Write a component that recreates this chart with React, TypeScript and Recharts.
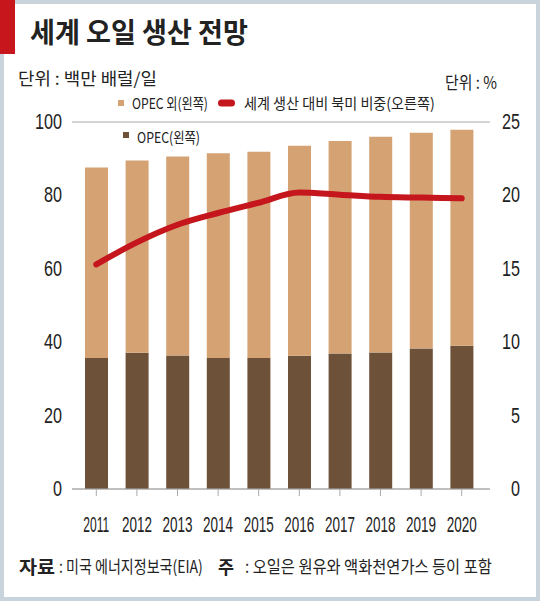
import React, { useLayoutEffect, useRef, useState } from "react";
import { ComposedChart, Bar, Line, XAxis, YAxis, CartesianGrid } from "recharts";

const years = ["2011", "2012", "2013", "2014", "2015", "2016", "2017", "2018", "2019", "2020"];
const opec = [35.7, 37.1, 36.4, 35.7, 35.7, 36.3, 36.9, 37.2, 38.3, 39.0];
const nonOpec = [51.9, 52.4, 54.2, 55.8, 56.2, 57.2, 57.9, 58.8, 58.8, 58.9];
const naShare = [15.3, 16.8, 18.0, 18.8, 19.5, 20.2, 20.05, 19.9, 19.85, 19.8];
const leftTicks = [0, 20, 40, 60, 80, 100];
const rightTicks = [0, 5, 10, 15, 20, 25];

const data = years.map((year, i) => ({
  year,
  opec: opec[i],
  nonOpec: nonOpec[i],
  share: naShare[i],
}));

const NUM_FONT = "'Liberation Sans', Arial, sans-serif";
const KR_FONT = "'Noto Sans CJK KR', sans-serif";
const TAN = "#d4a273";
const BROWN = "#6d5139";
const RED = "#c4161c";

// squeezes a text horizontally to a given width (the source uses a condensed face)
function FitText({ x, y, width, anchor = "start", children, ...rest }: any) {
  const ref = useRef<SVGTextElement>(null);
  const [sx, setSx] = useState(1);
  useLayoutEffect(() => {
    if (ref.current) {
      const w = ref.current.getComputedTextLength();
      if (w > 0) setSx(width / w);
    }
  }, [width, children]);
  return (
    <g transform={`translate(${x},${y}) scale(${sx},1)`}>
      <text ref={ref} x={0} y={0} textAnchor={anchor} fill="#222" {...rest}>
        {children}
      </text>
    </g>
  );
}

const LeftTick = ({ y, payload }: any) => {
  const s = String(payload.value);
  return (
    <FitText x={62} y={y + 7} width={s.length * 9} anchor="end" fontSize={22} fontFamily={NUM_FONT}>
      {s}
    </FitText>
  );
};

const RightTick = ({ y, payload }: any) => {
  const s = String(payload.value);
  return (
    <FitText x={520} y={y + 7} width={s.length * 9} anchor="end" fontSize={22} fontFamily={NUM_FONT}>
      {s}
    </FitText>
  );
};

const YearTick = ({ x, payload }: any) => (
  <FitText x={x} y={532} width={payload.value.endsWith("11") ? 26 : 30} anchor="middle" fontSize={22} fontFamily={NUM_FONT}>
    {payload.value}
  </FitText>
);

export default function App() {
  return (
    <div style={{ position: "absolute", left: 0, top: 0, width: 540, height: 601, background: "#fff" }}>
      {/* frame */}
      <div style={{ position: "absolute", inset: 0, border: "4px solid #c9d3dc", boxSizing: "border-box" }} />
      <div style={{ position: "absolute", left: 0, top: 0, width: 15, height: 54, background: "#c8161d" }} />

      <div style={{ position: "absolute", left: 0, top: 0 }}>
        <ComposedChart width={540} height={601} data={data} margin={{ top: 122, right: 0, bottom: 72, left: 0 }}>
          <CartesianGrid vertical={false} stroke="#aaa" />
          <XAxis
            dataKey="year"
            height={40}
            padding={{ left: 4, right: 8 }}
            axisLine={{ stroke: "#aaa" }}
            tickLine={{ stroke: "#aaa" }}
            tickSize={7}
            tick={<YearTick />}
            interval={0}
          />
          <YAxis
            yAxisId="left"
            width={72}
            domain={[0, 100]}
            ticks={leftTicks}
            axisLine={false}
            tickLine={false}
            tick={<LeftTick />}
          />
          <YAxis
            yAxisId="right"
            orientation="right"
            width={50}
            domain={[0, 25]}
            ticks={rightTicks}
            axisLine={false}
            tickLine={false}
            tick={<RightTick />}
          />
          <Bar yAxisId="left" dataKey="opec" stackId="a" fill={BROWN} barSize={23} isAnimationActive={false} />
          <Bar yAxisId="left" dataKey="nonOpec" stackId="a" fill={TAN} barSize={23} isAnimationActive={false} />
          <Line
            yAxisId="right"
            dataKey="share"
            type="monotone"
            stroke={RED}
            strokeWidth={6}
            strokeLinecap="round"
            strokeLinejoin="round"
            dot={false}
            isAnimationActive={false}
          />
        </ComposedChart>
      </div>

      {/* texts & legend */}
      <svg width={540} height={601} style={{ position: "absolute", left: 0, top: 0, pointerEvents: "none" }}>
        <FitText x={30} y={43} width={218} fontSize={28} fontWeight={700} fontFamily={KR_FONT}>
          세계 오일 생산 전망
        </FitText>
        <FitText x={18} y={85} width={139} fontSize={17} fontFamily={KR_FONT}>
          단위 : 백만 배럴/일
        </FitText>
        <FitText x={445} y={89} width={52} fontSize={17} fontFamily={KR_FONT}>
          단위 : %
        </FitText>

        <rect x={118} y={100} width={6} height={6} fill={TAN} />
        <FitText x={132} y={109} width={76} fontSize={15} fontFamily={KR_FONT}>
          OPEC 외(왼쪽)
        </FitText>
        <rect x={218} y={99.5} width={17} height={7} rx={3.5} fill={RED} />
        <FitText x={244} y={109} width={191} fontSize={15} fontFamily={KR_FONT}>
          세계 생산 대비 북미 비중(오른쪽)
        </FitText>
        <rect x={123} y={132} width={6} height={6} fill={BROWN} />
        <FitText x={137} y={143} width={63} fontSize={15} fontFamily={KR_FONT}>
          OPEC(왼쪽)
        </FitText>

        <FitText x={19} y={574} width={36} fontSize={18} fontWeight={700} fontFamily={KR_FONT}>
          자료
        </FitText>
        <FitText x={59} y={573} width={144} fontSize={17} fontFamily={KR_FONT}>
          : 미국 에너지정보국(EIA)
        </FitText>
        <FitText x={218} y={574} width={16} fontSize={18} fontWeight={700} fontFamily={KR_FONT}>
          주
        </FitText>
        <FitText x={245} y={573} width={247} fontSize={17} fontFamily={KR_FONT}>
          : 오일은 원유와 액화천연가스 등이 포함
        </FitText>
      </svg>
    </div>
  );
}
